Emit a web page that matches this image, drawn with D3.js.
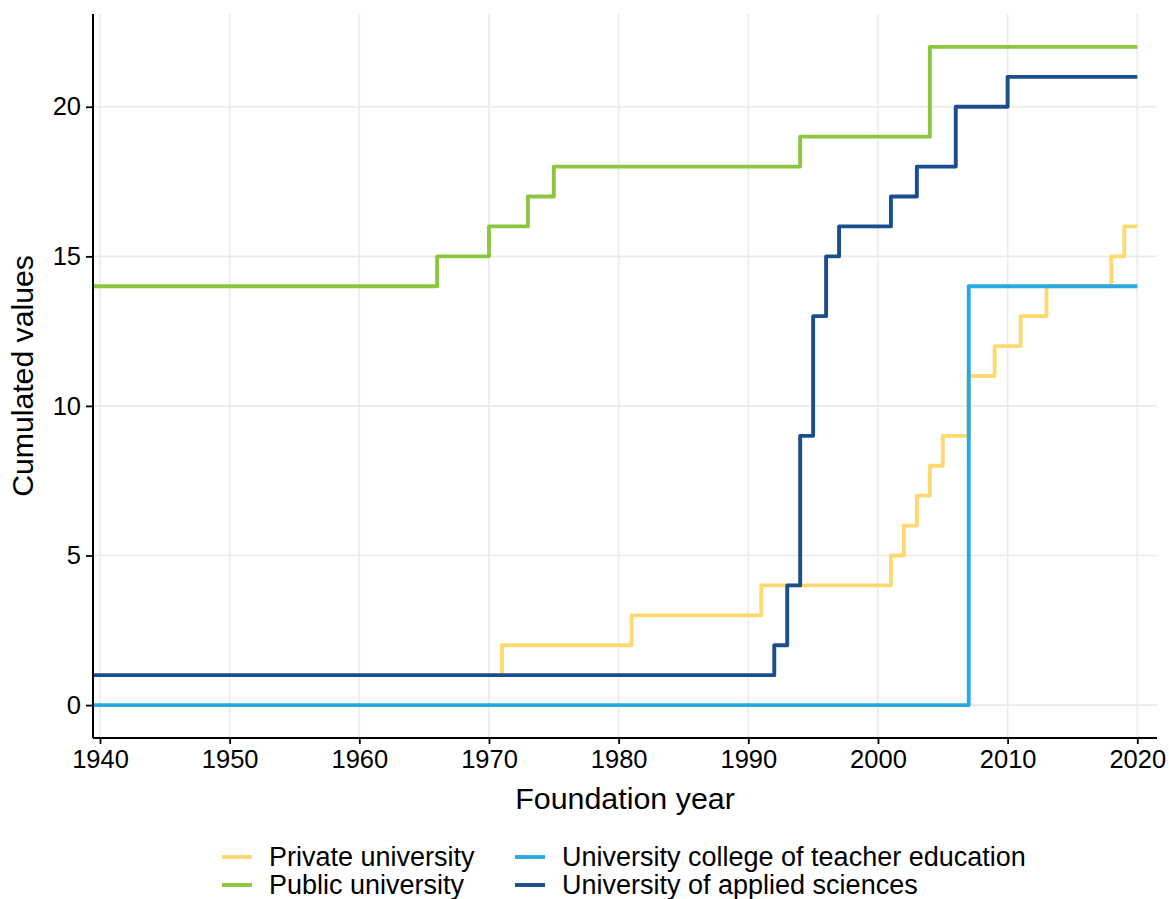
<!DOCTYPE html>
<html>
<head>
<meta charset="utf-8">
<script src="https://cdn.jsdelivr.net/npm/d3@7"></script>
<style>
  body { margin: 0; background: #fff; }
  text { font-family: "Liberation Sans", Arial, sans-serif; fill: #000; }
</style>
</head>
<body>
<script>
// series names + colours (legend order)
var seriesNames = ["Private university", "Public university",
                   "University college of teacher education", "University of applied sciences"];
var seriesColors = ["#FDD96F", "#8CC63E", "#2AA9E0", "#1A4E8F"];

// foundation years and cumulated values, one pair of arrays per type
var privateYears  = [1971, 1971, 1981, 1991, 2001, 2002, 2003, 2004, 2005, 2007, 2009, 2011, 2013, 2018, 2019, 2020];
var privateValues = [1, 2, 3, 4, 5, 6, 7, 8, 9, 11, 12, 13, 14, 15, 16, 16];

var publicYears  = [1930, 1966, 1970, 1973, 1975, 1994, 2004, 2020];
var publicValues = [14, 15, 16, 17, 18, 19, 22, 22];

var teacherYears  = [1930, 2007, 2020];
var teacherValues = [0, 14, 14];

var appliedYears  = [1930, 1992, 1993, 1994, 1995, 1996, 1997, 2001, 2003, 2006, 2010, 2020];
var appliedValues = [1, 2, 4, 9, 13, 15, 16, 17, 18, 20, 21, 21];

var xTicks = [1940, 1950, 1960, 1970, 1980, 1990, 2000, 2010, 2020];
var yTicks = [0, 5, 10, 15, 20];

var allYears = [privateYears, publicYears, teacherYears, appliedYears];
var allValues = [privateValues, publicValues, teacherValues, appliedValues];

var W = 1169, H = 899;
var margin = { top: 14, right: 12, bottom: 161, left: 93 },
    width = W - margin.left - margin.right,
    height = H - margin.top - margin.bottom;

var svg = d3.select("body").append("svg")
    .attr("width", W)
    .attr("height", H);

var x = d3.scaleLinear().domain([1939.46, 2021.52]).range([0, width]);
var y = d3.scaleLinear().domain([-1.1, 23.1]).range([height, 0]);

var g = svg.append("g").attr("transform", "translate(" + margin.left + "," + margin.top + ")");

svg.append("defs").append("clipPath").attr("id", "clip")
  .append("rect").attr("width", width).attr("height", height);

// grid
g.selectAll("line.vgrid").data(xTicks).enter().append("line")
    .attr("class", "vgrid")
    .attr("x1", function(d) { return x(d); }).attr("x2", function(d) { return x(d); })
    .attr("y1", 0).attr("y2", height)
    .attr("stroke", "#ebebeb").attr("stroke-width", 1.6);
g.selectAll("line.hgrid").data(yTicks).enter().append("line")
    .attr("class", "hgrid")
    .attr("y1", function(d) { return y(d); }).attr("y2", function(d) { return y(d); })
    .attr("x1", 0).attr("x2", width)
    .attr("stroke", "#ebebeb").attr("stroke-width", 1.6);

// step lines
var line = d3.line()
    .x(function(d) { return x(d[0]); })
    .y(function(d) { return y(d[1]); })
    .curve(d3.curveStepAfter);

var lines = g.append("g").attr("clip-path", "url(#clip)");
seriesNames.forEach(function(name, i) {
    var pts = d3.zip(allYears[i], allValues[i]);
    lines.append("path")
        .datum(pts)
        .attr("d", line)
        .attr("fill", "none")
        .attr("stroke", seriesColors[i])
        .attr("stroke-width", 3.9)
        .attr("stroke-linejoin", "round");
});

// axes
var xAxis = g.append("g")
    .attr("transform", "translate(0," + height + ")")
    .call(d3.axisBottom(x).tickValues(xTicks).tickFormat(d3.format("d")).tickSize(6).tickPadding(6));
var yAxis = g.append("g")
    .call(d3.axisLeft(y).tickValues(yTicks).tickSize(7).tickPadding(5));

[xAxis, yAxis].forEach(function(ax) {
    ax.select(".domain").attr("stroke", "#000").attr("stroke-width", 2);
    ax.selectAll(".tick line").attr("stroke", "#000").attr("stroke-width", 1.8);
    ax.selectAll(".tick text").attr("font-size", "25.5px").attr("fill", "#000")
        .style("font-family", "'Liberation Sans', Arial, sans-serif");
});
// remove the outer ticks of the domain path
xAxis.select(".domain").attr("d", "M0,0H" + width);
yAxis.select(".domain").attr("d", "M0,0V" + height);

// axis titles
svg.append("text")
    .attr("x", 625)
    .attr("y", 809)
    .attr("text-anchor", "middle")
    .attr("font-size", "30.4px")
    .text("Foundation year");

svg.append("text")
    .attr("transform", "translate(33," + (margin.top + height / 2) + ") rotate(-90)")
    .attr("text-anchor", "middle")
    .attr("font-size", "30.2px")
    .text("Cumulated values");

// legend: 2 columns, filled column-wise
var legendCols = [222, 515];
var legendRows = [857, 885];
var legend = svg.append("g");
seriesNames.forEach(function(name, i) {
    var col = Math.floor(i / 2), row = i % 2;
    var lx = legendCols[col], ly = legendRows[row];
    legend.append("line")
        .attr("x1", lx).attr("x2", lx + 30)
        .attr("y1", ly).attr("y2", ly)
        .attr("stroke", seriesColors[i])
        .attr("stroke-width", 3.9);
    legend.append("text")
        .attr("x", lx + 47)
        .attr("y", ly + 9)
        .attr("font-size", "27px")
        .text(name);
});
</script>
</body>
</html>
